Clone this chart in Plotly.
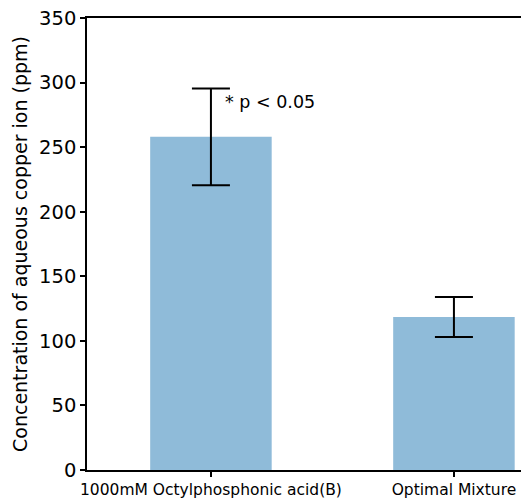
import plotly.graph_objects as go

categories = ["1000mM Octylphosphonic acid(B)", "Optimal Mixture"]
values = [258, 118.5]
errors = [37.5, 15.5]
y_ticks = [0, 50, 100, 150, 200, 250, 300, 350]
annotation_text = "* p < 0.05"

fig = go.Figure()
fig.add_trace(go.Bar(
    x=[0, 1], y=values, width=0.5,
    marker=dict(color="rgba(31,119,180,0.5)", line=dict(width=0)),
    error_y=dict(type="data", array=errors, visible=True, color="black",
                 thickness=2, width=19),
))
fig.add_annotation(x=0.05, y=285, xref="x", yref="y", text=annotation_text,
                   showarrow=False, xanchor="left", yanchor="middle",
                   font=dict(size=17.5, color="black"))

fig.update_layout(
    width=521, height=499,
    margin=dict(l=87, r=0, t=18, b=29),
    plot_bgcolor="white", paper_bgcolor="white",
    showlegend=False,
    font=dict(family="DejaVu Sans", color="black"),
)
fig.update_xaxes(
    range=[-0.51, 1.276], tickvals=[0, 1], ticktext=categories,
    showline=True, linecolor="black", linewidth=1.5, mirror=True,
    ticks="outside", ticklen=5, tickcolor="black", tickwidth=1.5,
    tickfont=dict(size=15.5), showgrid=False, zeroline=False,
)
fig.update_yaxes(
    range=[0, 350], tickvals=y_ticks,
    showline=True, linecolor="black", linewidth=1.5,
    ticks="outside", ticklen=5, tickcolor="black", tickwidth=1.5,
    tickfont=dict(size=19.5), showgrid=False, zeroline=False,
    title=dict(text="Concentration of aqueous copper ion (ppm)", font=dict(size=19), standoff=6),
)
fig.write_html("out.html")
